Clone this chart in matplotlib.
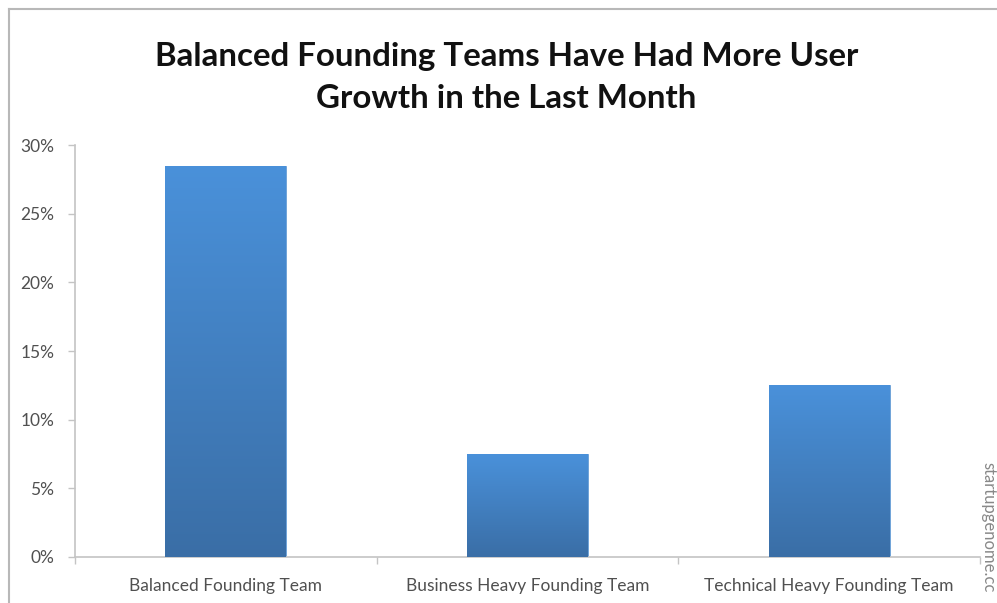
import numpy as np
import matplotlib
matplotlib.use("Agg")
import matplotlib.pyplot as plt
from matplotlib.lines import Line2D
from matplotlib.colors import LinearSegmentedColormap

# Data
categories = ["Balanced Founding Team", "Business Heavy Founding Team", "Technical Heavy Founding Team"]
growth = [28.5, 7.5, 12.5]
yticks = [0, 5, 10, 15, 20, 25, 30]
ytick_labels = ["0%", "5%", "10%", "15%", "20%", "25%", "30%"]

plt.rcParams["font.family"] = ["Lato", "DejaVu Sans"]

fig = plt.figure(figsize=(9.97, 6.03), dpi=100)
ax = fig.add_axes([0.0752, 0.0763, 0.983 - 0.0752, 0.7595 - 0.0763])

x = np.arange(len(categories))
bars = ax.bar(x, growth, width=0.4, color="#4383c8", edgecolor="#6aa0d8", linewidth=0.6, zorder=2)

# vertical gradient inside each bar
grad = LinearSegmentedColormap.from_list("bar", ["#3a6ea6", "#4a91da"])
g = np.linspace(0, 1, 256).reshape(-1, 1)
for b in bars:
    x0, w, h = b.get_x(), b.get_width(), b.get_height()
    im = ax.imshow(g, cmap=grad, aspect="auto", origin="lower",
                   extent=[x0, x0 + w, 0, h], zorder=3)
    im.set_clip_path(b)

ax.set_xlim(-0.5, len(categories) - 0.5)
ax.set_ylim(0, 30)
ax.set_yticks(yticks)
ax.set_yticklabels(ytick_labels)
ax.set_xticks(x)
ax.set_xticklabels(categories)
ax.set_xticks(np.arange(len(categories) + 1) - 0.5, minor=True)

for s in ["top", "right"]:
    ax.spines[s].set_visible(False)
for s in ["left", "bottom"]:
    ax.spines[s].set_color("#c4c4c4")
    ax.spines[s].set_linewidth(1.2)

ax.tick_params(axis="y", length=5, width=1.0, color="#c4c4c4", labelsize=12.5,
               labelcolor="#505050", pad=10)
ax.tick_params(axis="x", which="major", length=0, labelsize=12.5, labelcolor="#505050", pad=15)
ax.tick_params(axis="x", which="minor", length=5, width=1.0, color="#c4c4c4")

fig.text(0.508, 0.872, "Balanced Founding Teams Have Had More User\nGrowth in the Last Month",
         ha="center", va="center", fontsize=23.8, fontweight="bold", color="#111111",
         linespacing=1.55)

# source credit on the right edge
fig.text(0.991, 0.125, "startupgenome.cc", rotation=-90, ha="center", va="center",
         fontsize=12, color="#888888")

# outer frame
fig.add_artist(Line2D([8.5 / 997, 8.5 / 997], [0, 1 - 9 / 603], color="#b8b8b8", lw=1.5))
fig.add_artist(Line2D([8.5 / 997, 1], [1 - 9 / 603, 1 - 9 / 603], color="#b8b8b8", lw=1.5))

fig.savefig("out.png", dpi=100)
